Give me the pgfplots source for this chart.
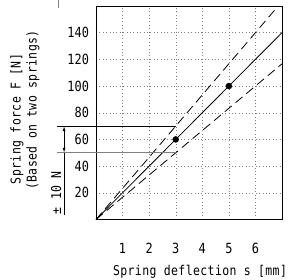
\documentclass[border=0pt]{standalone}
\usepackage{fontspec}
\setmainfont{DejaVu Sans Mono}[FakeStretch=0.85]
\newfontfamily\lblfont{DejaVu Sans Mono}[FakeStretch=0.85, LetterSpace=3]
\usepackage{pgfplots}
\pgfplotsset{compat=1.18}
\usetikzlibrary{arrows.meta}
\begin{document}
\begin{tikzpicture}[x=1pt,y=1pt]
\useasboundingbox (0,0) rectangle (293,280);
\begin{axis}[at={(96pt,60.5pt)}, anchor=south west,
  width=186pt, height=213.5pt, scale only axis,
  xmin=0, xmax=7, ymin=0, ymax=160,
  xtick={1,...,6}, ytick={20,40,...,140},
  grid=major, grid style={dash pattern=on 0.8pt off 2.6pt, gray},
  major tick length=0pt,
  axis line style={line width=0.8pt},
  tick label style={font=\fontsize{14}{15}\selectfont},
  /pgf/number format/assume math mode=true,
  xticklabel style={anchor=center, yshift=-29pt},
  yticklabel style={xshift=-3.5pt},
  clip=false]
\addplot[black, line width=0.8pt] coordinates {(0,0) (7,140)};
\addplot[black, line width=0.8pt, dash pattern=on 9pt off 5pt] coordinates {(0,0) (6.857,160)};
\addplot[black, line width=0.8pt, dash pattern=on 9pt off 5pt] coordinates {(0,0) (7,116.67)};
\addplot[only marks, mark=*, mark size=3pt, black] coordinates {(3,60) (5,100)};
\draw[black, line width=0.8pt] (axis cs:-1.47,70) -- (axis cs:3,70);
\draw[gray, line width=1pt] (axis cs:-1.47,50) -- (axis cs:3,50);
\draw[line width=0.8pt, {Latex[length=5pt,width=3pt]}-{Latex[length=5pt,width=3pt]}] (axis cs:-1.2,70) -- (axis cs:-1.2,50);
\draw[line width=0.8pt] (axis cs:-1.2,50) -- (axis cs:-1.2,3.4);
\node[rotate=90, font=\lblfont\fontsize{13.5}{14}\selectfont] at (axis cs:-1.5,20) {± 10 N};
\draw[gray, line width=0.8pt] (axis cs:-1.43,158.5) -- (axis cs:-1.43,166);
\end{axis}
\node[rotate=90, font=\lblfont\fontsize{13.5}{14}\selectfont] at (17,161) {Spring force F [N]};
\node[rotate=90, font=\lblfont\fontsize{13.5}{14}\selectfont] at (33,170) {(Based on two springs)};
\node[font=\lblfont\fontsize{13.5}{14}\selectfont] at (200,8) {Spring deflection s [mm]};
\end{tikzpicture}
\end{document}
